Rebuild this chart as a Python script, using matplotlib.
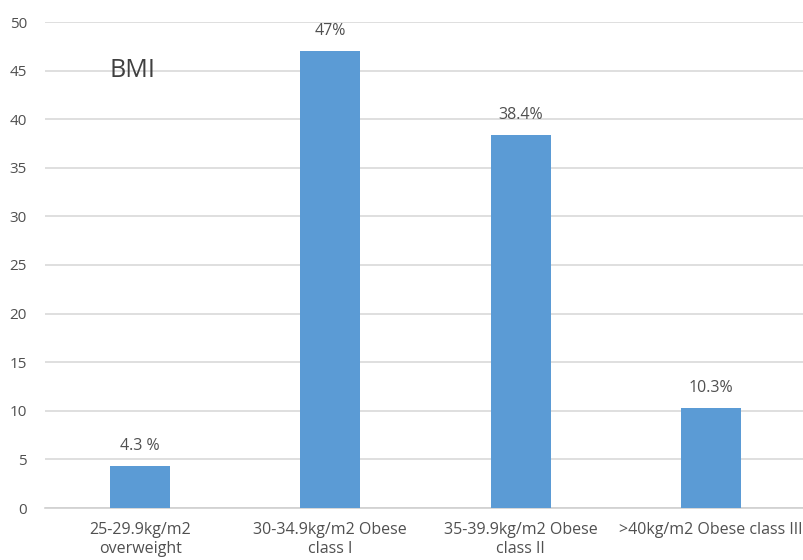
import matplotlib
matplotlib.use("Agg")
import matplotlib.pyplot as plt

categories = ["25-29.9kg/m2\noverweight", "30-34.9kg/m2 Obese\nclass I",
              "35-39.9kg/m2 Obese\nclass II", ">40kg/m2 Obese class III"]
values = [4.3, 47, 38.4, 10.3]
value_labels = ["4.3 %", "47%", "38.4%", "10.3%"]
yticks = [0, 5, 10, 15, 20, 25, 30, 35, 40, 45, 50]

plt.rcParams['font.family'] = ['Open Sans', 'DejaVu Sans']
txt = '#505050'

fig = plt.figure(figsize=(8.04, 5.6), dpi=100)
ax = fig.add_axes([45/804, 1-508/560, 761/804, (508-22)/560])
x = list(range(len(categories)))
bars = ax.bar(x, values, width=0.315, color='#5b9bd5', zorder=3)
for xi, v, lab in zip(x, values, value_labels):
    ax.annotate(lab, (xi, v), xytext=(0, 20), textcoords='offset pixels',
                ha='center', va='center', fontsize=11.5, color=txt)
ax.set_xlim(-0.5, 3.5)
ax.set_ylim(0, 50)
ax.set_yticks(yticks)
ax.set_xticks(x)
ax.set_xticklabels(categories, fontsize=11.5, color=txt, linespacing=1.3)
ax.tick_params(axis='y', labelsize=11, colors=txt, length=0, pad=13)
ax.tick_params(axis='x', length=0, pad=10)
ax.grid(axis='y', color='#d9d9d9', linewidth=1.2, zorder=0)
for s in ['top', 'right', 'left']:
    ax.spines[s].set_visible(False)
ax.spines['bottom'].set_color('#d0d0d0')
ax.spines['bottom'].set_linewidth(1.2)
ax.text(-0.04, 45, "BMI", fontsize=18, color='#404040', ha='center', va='center')
fig.savefig("out.png", dpi=100)
